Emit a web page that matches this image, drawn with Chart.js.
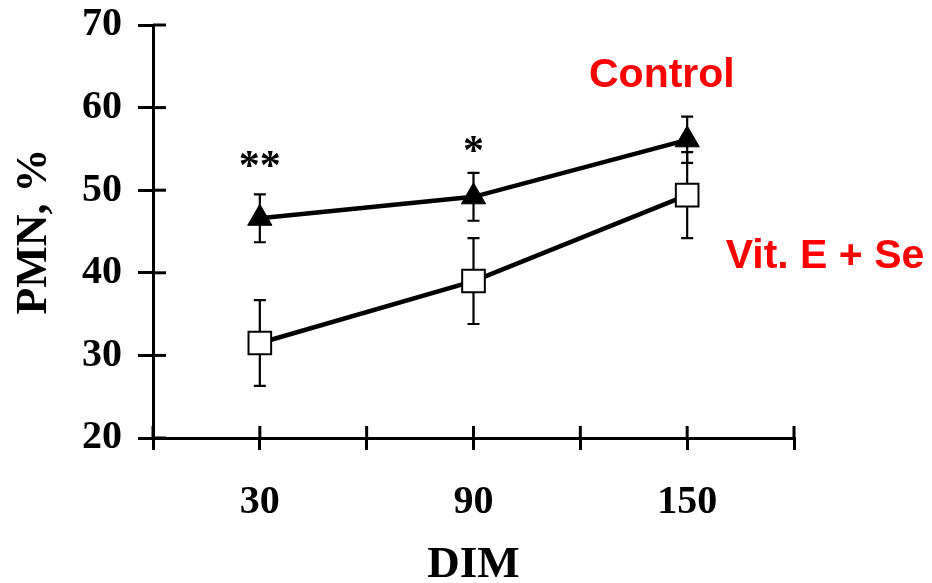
<!DOCTYPE html>
<html>
<head>
<meta charset="utf-8">
<script src="https://cdn.jsdelivr.net/npm/chart.js@4"></script>
<style>
  body { margin: 0; background: #fff; }
  #wrap { width: 932px; height: 583px; }
</style>
</head>
<body>
<div id="wrap"><canvas id="myChart" width="932" height="583"></canvas></div>
<script>
// data
const dim = [30, 90, 150];
const controlMean = [46.6, 49.2, 56.1];
const controlSd = [2.9, 2.9, 2.8];
const vitMean = [31.5, 39.0, 49.4];
const vitSd = [5.2, 5.2, 5.2];
const xTickLabels = [30, 90, 150];
const stars = [{ x: 30, y: 53.9, text: '**' }, { x: 90, y: 55.7, text: '*' }];
const seriesLabels = [
    { x: 142.9, y: 63.9, text: 'Control' },
    { x: 188.7, y: 42.0, text: 'Vit. E + Se' }
];

const ctx = document.getElementById('myChart');

function points(xs, ys) {
    return xs.map(function (x, i) { return { x: x, y: ys[i] }; });
}

// error bars, drawn under the markers
const errorBars = {
    id: 'errorBars',
    beforeDatasetsDraw(chart) {
        const c = chart.ctx;
        const x = chart.scales.x, y = chart.scales.y;
        const sets = [[controlMean, controlSd], [vitMean, vitSd]];
        c.save();
        c.strokeStyle = '#000';
        c.lineWidth = 2.2;
        sets.forEach(function (s) {
            dim.forEach(function (d, i) {
                const px = x.getPixelForValue(d);
                const top = y.getPixelForValue(s[0][i] + s[1][i]);
                const bot = y.getPixelForValue(s[0][i] - s[1][i]);
                c.beginPath();
                c.moveTo(px, top); c.lineTo(px, bot);
                c.moveTo(px - 6, top); c.lineTo(px + 6, top);
                c.moveTo(px - 6, bot); c.lineTo(px + 6, bot);
                c.stroke();
            });
        });
        c.restore();
    }
};

// the inner half of the tick marks, plus stars and red labels
const extras = {
    id: 'extras',
    afterDraw(chart) {
        const c = chart.ctx;
        const x = chart.scales.x, y = chart.scales.y;
        const area = chart.chartArea;
        c.save();
        c.strokeStyle = '#000';
        c.lineWidth = 3;
        y.ticks.forEach(function (t) {
            const py = y.getPixelForValue(t.value);
            c.beginPath(); c.moveTo(area.left, py); c.lineTo(area.left + 13, py); c.stroke();
        });
        x.ticks.forEach(function (t) {
            const px = x.getPixelForValue(t.value);
            c.beginPath(); c.moveTo(px, area.bottom); c.lineTo(px, area.bottom - 12); c.stroke();
        });

        c.textAlign = 'center';
        c.textBaseline = 'middle';
        c.fillStyle = '#000';
        c.font = 'bold 42px "Liberation Serif"';
        stars.forEach(function (s) {
            c.fillText(s.text, x.getPixelForValue(s.x), y.getPixelForValue(s.y) + 10);
        });

        c.fillStyle = '#ff0000';
        c.font = 'bold 41px "Liberation Sans"';
        seriesLabels.forEach(function (s) {
            c.fillText(s.text, x.getPixelForValue(s.x), y.getPixelForValue(s.y));
        });
        c.restore();
    }
};

new Chart(ctx, {
    type: 'line',
    data: {
        datasets: [{
            label: 'Control',
            data: points(dim, controlMean),
            borderColor: '#000',
            borderWidth: 4.5,
            pointStyle: 'triangle',
            pointRadius: 14,
            pointBackgroundColor: '#000',
            pointBorderColor: '#000',
            pointBorderWidth: 1
        }, {
            label: 'Vit. E + Se',
            data: points(dim, vitMean),
            borderColor: '#000',
            borderWidth: 4.5,
            pointStyle: 'rect',
            pointRadius: 16,
            pointBackgroundColor: '#fff',
            pointBorderColor: '#000',
            pointBorderWidth: 2
        }]
    },
    options: {
        responsive: false,
        animation: false,
        layout: { padding: { top: 25, right: 138, left: 0, bottom: 0 } },
        plugins: { legend: { display: false }, tooltip: { enabled: false } },
        scales: {
            x: {
                type: 'linear',
                min: 0,
                max: 180,
                border: { display: true, color: '#000', width: 3 },
                grid: { drawOnChartArea: false, drawTicks: true, tickLength: 12, color: '#000', lineWidth: 3 },
                ticks: {
                    stepSize: 30,
                    maxRotation: 0,
                    autoSkip: false,
                    padding: 29,
                    color: '#000',
                    font: { family: 'Liberation Serif', size: 40, weight: 'bold' },
                    callback: function (v) { return xTickLabels.indexOf(v) >= 0 ? String(v) : ''; }
                },
                title: {
                    display: true,
                    text: 'DIM',
                    color: '#000',
                    padding: 0,
                    font: { family: 'Liberation Serif', size: 45, weight: 'bold', lineHeight: 0.8 }
                },
                afterFit: function (scale) {
                    scale.height = 145;
                    scale.paddingLeft = 0;
                    scale.paddingRight = 0;
                }
            },
            y: {
                min: 20,
                max: 70,
                border: { display: true, color: '#000', width: 3 },
                grid: { drawOnChartArea: false, drawTicks: true, tickLength: 15, color: '#000', lineWidth: 3 },
                ticks: {
                    stepSize: 10,
                    padding: 16,
                    color: '#000',
                    font: { family: 'Liberation Serif', size: 40, weight: 'bold' }
                },
                title: {
                    display: true,
                    text: 'PMN, %',
                    color: '#000',
                    padding: { top: 8, bottom: 0 },
                    font: { family: 'Liberation Serif', size: 44, weight: 'bold' }
                },
                afterFit: function (scale) {
                    scale.width = 153;
                    scale.paddingTop = 0;
                    scale.paddingBottom = 0;
                }
            }
        }
    },
    plugins: [errorBars, extras]
});
</script>
</body>
</html>
